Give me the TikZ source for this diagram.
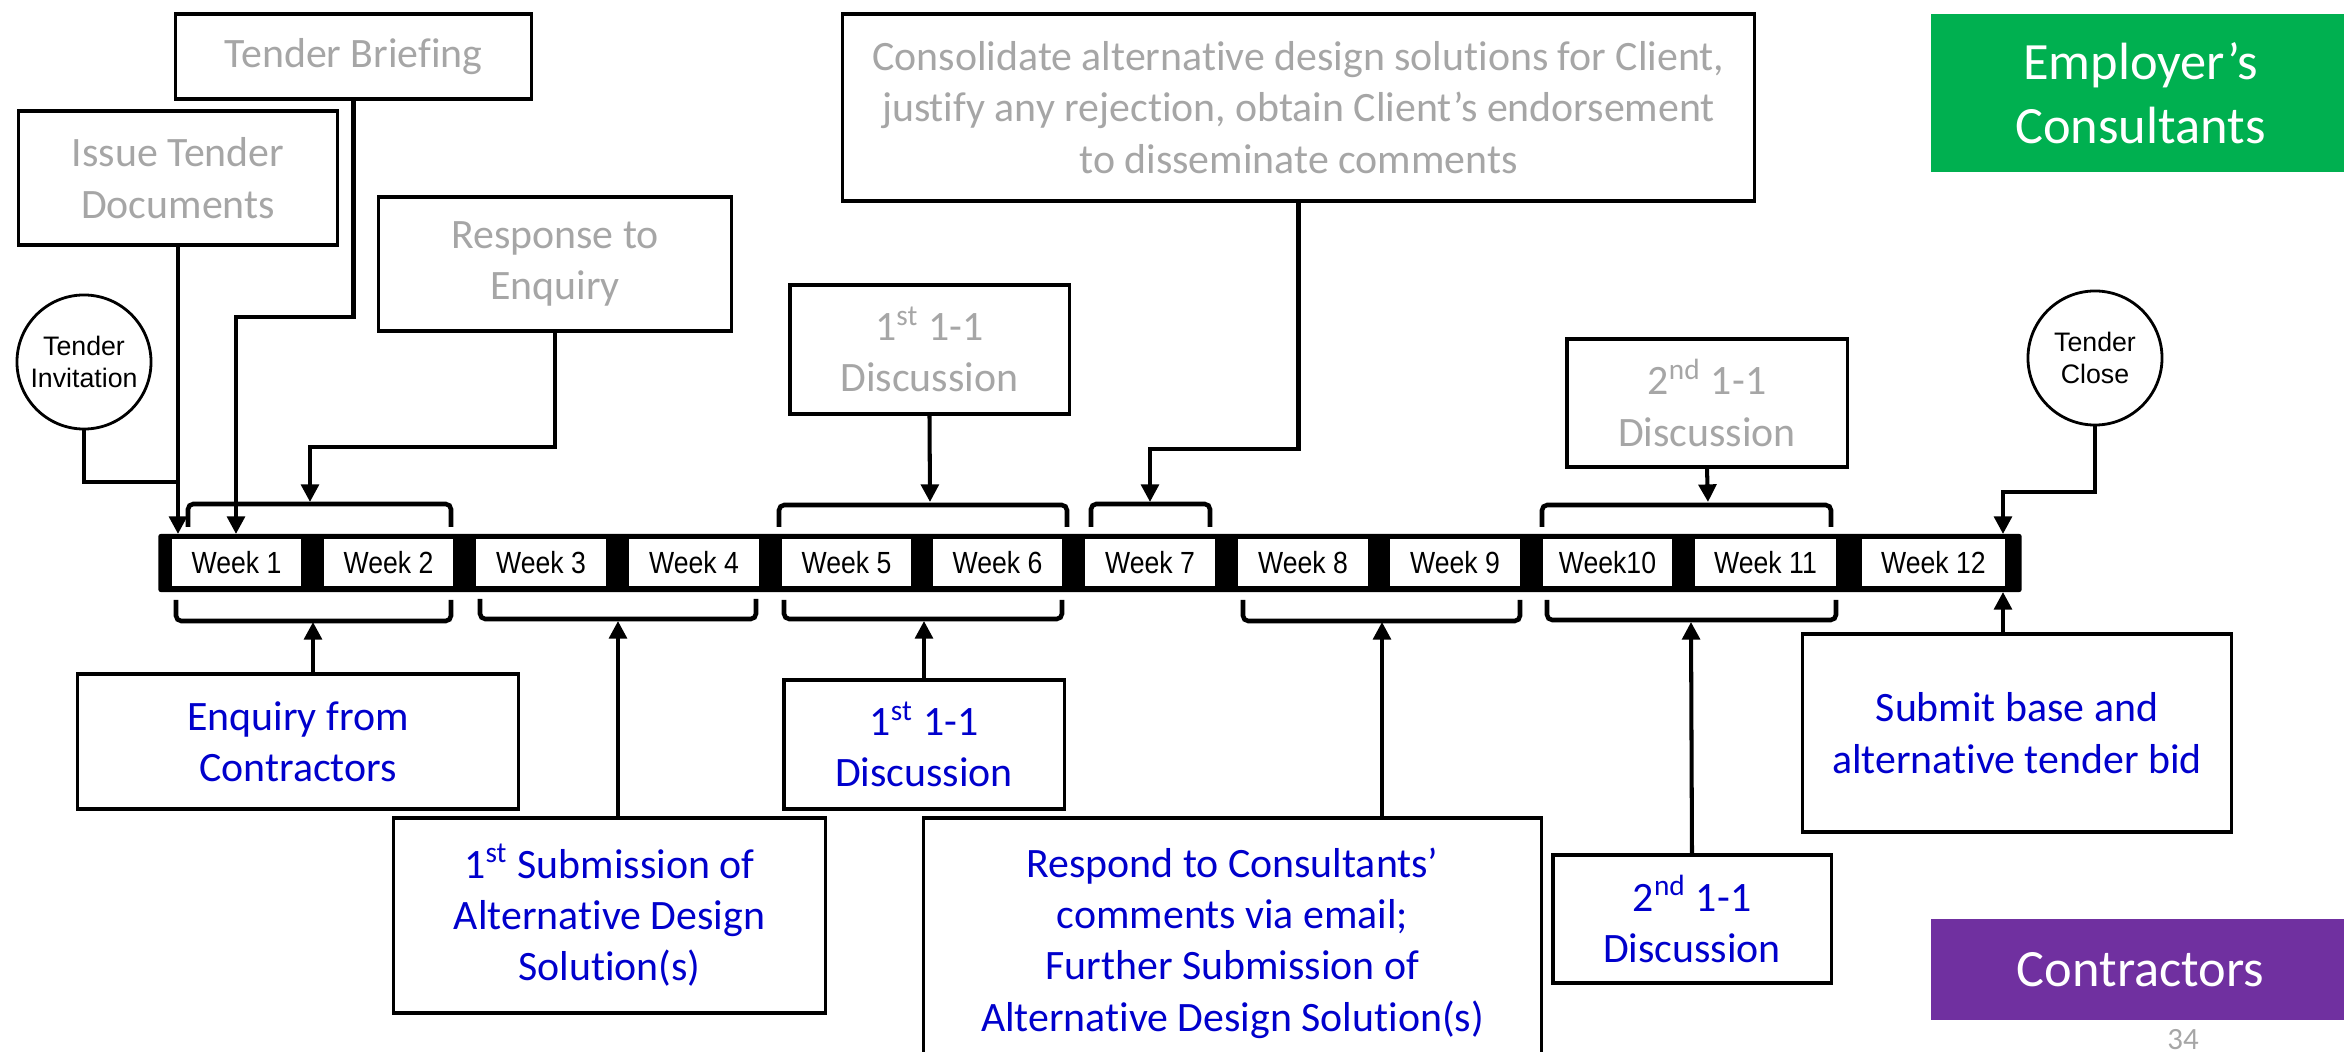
\documentclass[tikz,border=0pt]{standalone}
\usepackage{fontspec}
\setmainfont[Ligatures={NoCommon}]{Carlito}
\newfontfamily\weekfont[FakeStretch=0.87]{Liberation Sans}
\newfontfamily\arialfont{Liberation Sans}
\usetikzlibrary{arrows.meta}
\definecolor{txtgray}{RGB}{166,166,166}
\definecolor{txtblue}{RGB}{0,0,204}
\definecolor{empgreen}{RGB}{0,176,80}
\definecolor{conpurple}{RGB}{112,48,160}

\begin{document}
\begin{tikzpicture}[x=0.01cm,y=-0.01cm,
  box/.style={draw=black, line width=0.9pt, fill=white, inner sep=0pt, align=center,
              font=\fontsize{11.9}{14.6}\selectfont},
  ebox/.style={box, text=txtgray},
  cbox/.style={box, text=txtblue},
  event/.style={draw=black, line width=0.8pt, circle, minimum size=1.34cm, inner sep=0pt,
                align=center, font=\arialfont\fontsize{7.6}{9.1}\selectfont},
  wk/.style={fill=white, minimum width=1.29cm, minimum height=0.47cm, inner sep=0pt,
             font=\weekfont\fontsize{8.7}{10}\selectfont},
  bar/.style={fill=black, rounded corners=0.6pt, minimum width=18.62cm, minimum height=0.58cm, inner sep=0pt},
  brace/.style={line width=1.3pt, rounded corners=1.5pt},
  link/.style={line width=1.15pt},
  arr/.style={link, -{Triangle[length=5pt,width=5pt]}},
  tag/.style={inner sep=0pt, text=white, align=center, font=\fontsize{14.9}{18.2}\selectfont}
]
\useasboundingbox (0,0) rectangle (2344,1052);
\clip (0,0) rectangle (2344,1052);

% ---------- timeline bar and weeks ----------
\node[bar] (bar) at (1090,563) {};
\node[wk] (w1)  at (236.5,562.5) {Week 1};
\node[wk] (w2)  at (388.5,562.5) {Week 2};
\node[wk] (w3)  at (541,562.5)   {Week 3};
\node[wk] (w4)  at (694,562.5)   {Week 4};
\node[wk] (w5)  at (846.5,562.5) {Week 5};
\node[wk] (w6)  at (997.5,562.5) {Week 6};
\node[wk] (w7)  at (1150,562.5)  {Week 7};
\node[wk] (w8)  at (1303,562.5)  {Week 8};
\node[wk] (w9)  at (1455,562.5)  {Week 9};
\node[wk] (w10) at (1607.5,562.5) {Week10};
\node[wk, minimum width=1.41cm] (w11) at (1765.5,562.5) {Week 11};
\node[wk, minimum width=1.43cm] (w12) at (1933.5,562.5) {Week 12};

% ---------- brackets above the bar ----------
\draw[brace] (188,527) -- (188,504) -- (451,504) -- (451,527);
\draw[brace] (779,527) -- (779,505) -- (1067,505) -- (1067,527);
\draw[brace] (1091,527) -- (1091,504) -- (1210,504) -- (1210,527);
\draw[brace] (1542,527) -- (1542,505) -- (1831,505) -- (1831,527);

% ---------- brackets below the bar ----------
\draw[brace] (176,600) -- (176,621) -- (451,621) -- (451,600);
\draw[brace] (480,599) -- (480,619) -- (756,619) -- (756,599);
\draw[brace] (784,600) -- (784,619) -- (1062,619) -- (1062,600);
\draw[brace] (1243,600) -- (1243,621) -- (1520,621) -- (1520,600);
\draw[brace] (1547,600) -- (1547,620) -- (1836,620) -- (1836,600);

% ---------- landing points ----------
\coordinate (tIssue) at (178,534);
\coordinate (tBrief) at (236,534);
\coordinate (tResp)  at (310,502);
\coordinate (tDiscA) at (930,502);
\coordinate (tCons)  at (1150,502);
\coordinate (tDiscB) at (1708,502);
\coordinate (tClose) at (2003,534);
\coordinate (jInv)   at (178,482);
\coordinate (bEnq)    at (313,622);
\coordinate (bSub)    at (618,621);
\coordinate (bDiscA)  at (924,621);
\coordinate (bResp)   at (1382,622);
\coordinate (bDiscB)  at (1691,622);
\coordinate (bSubmit) at (2003,592);

% ---------- employer's consultants activities ----------
\node[ebox, minimum width=3.55cm, minimum height=0.85cm] (brief) at (353.5,56.5) {Tender Briefing};
\node[ebox, minimum width=3.18cm, minimum height=1.34cm] (issue) at (178,178) {Issue Tender\\Documents};
\node[ebox, minimum width=3.52cm, minimum height=1.34cm] (resp) at (555,264) {Response to\\Enquiry};
\node[ebox, minimum width=9.11cm, minimum height=1.87cm] (cons) at (1298.5,107.5)
  {Consolidate alternative design solutions for Client,\\justify any rejection, obtain Client’s endorsement\\to disseminate comments};
\node[ebox, minimum width=2.79cm, minimum height=1.29cm] (discA) at (929.5,349.5) {1\textsuperscript{st} 1-1\\Discussion};
\node[ebox, minimum width=2.80cm, minimum height=1.28cm] (discB) at (1707,403) {2\textsuperscript{nd} 1-1\\Discussion};

% ---------- milestones ----------
\node[event] (inv) at (84,362) {Tender\\Invitation};
\node[event] (close) at (2095,358) {Tender\\Close};

% ---------- contractors activities ----------
\node[cbox, minimum width=4.40cm, minimum height=1.35cm] (enq) at (298,741.5) {Enquiry from\\Contractors};
\node[cbox, minimum width=4.31cm, minimum height=1.95cm] (sub) at (609.5,915.5)
  {1\textsuperscript{st} Submission of\\Alternative Design\\Solution(s)};
\node[cbox, minimum width=2.80cm, minimum height=1.29cm] (discAc) at (924,744.5) {1\textsuperscript{st} 1-1\\Discussion};
\node[cbox, minimum width=6.17cm, minimum height=2.50cm] (respond) at (1232.5,943)
  {Respond to Consultants’\\comments via email;\\Further Submission of\\Alternative Design Solution(s)};
\node[cbox, minimum width=2.78cm, minimum height=1.28cm] (discBc) at (1692,919) {2\textsuperscript{nd} 1-1\\Discussion};
\node[cbox, minimum width=4.28cm, minimum height=1.98cm] (submit) at (2017,733)
  {Submit base and\\alternative tender bid};

% ---------- legend tags ----------
\node[tag, fill=empgreen, minimum width=4.19cm, minimum height=1.58cm] (emp) at (2140.5,93) {Employer’s\\Consultants};
\node[tag, fill=conpurple, minimum width=4.19cm, minimum height=1.01cm] (con) at (2140.5,969.5) {Contractors};
\node[text=txtgray, inner sep=0pt, anchor=base, font=\fontsize{8.8}{10}\selectfont] (pg) at (2183,1049) {34};

% ---------- connectors from above ----------
\draw[link] (inv.south) |- (jInv);
\draw[arr] (issue.south) -- (tIssue);
\draw[arr] (brief.south) -- ++(0,216) -| (tBrief);
\draw[arr] (resp.south) -- ++(0,114) -| (tResp);
\draw[arr] (discA.south) -- (tDiscA);
\draw[arr] (cons.south) -- ++(0,246) -| (tCons);
\draw[arr] (discB.south) -- (tDiscB);
\draw[arr] (close.south) -- ++(0,66) -| (tClose);

% ---------- connectors from below ----------
\draw[arr] (enq.north -| bEnq) -- (bEnq);
\draw[arr] (sub.north -| bSub) -- (bSub);
\draw[arr] (discAc.north) -- (bDiscA);
\draw[arr] (respond.north -| bResp) -- (bResp);
\draw[arr] (discBc.north) -- (bDiscB);
\draw[arr] (submit.north -| bSubmit) -- (bSubmit);
\end{tikzpicture}
\end{document}
